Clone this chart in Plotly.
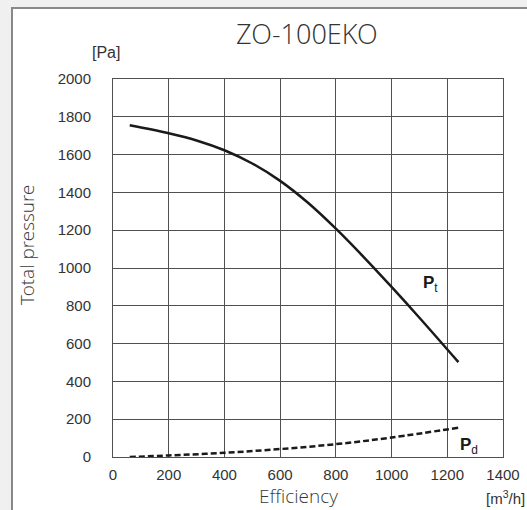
import plotly.graph_objects as go

# Data
pt_x = [60, 200, 300, 400, 500, 600, 700, 800, 900, 1000, 1100, 1240]
pt_y = [1755, 1713, 1675, 1623, 1553, 1461, 1345, 1208, 1058, 900, 737, 502]
pd_x = [60, 200, 400, 600, 800, 1000, 1240]
pd_y = [0, 8, 22, 42, 68, 103, 155]
x_ticks = [0, 200, 400, 600, 800, 1000, 1200, 1400]
y_ticks = [0, 200, 400, 600, 800, 1000, 1200, 1400, 1600, 1800, 2000]

W, H = 527, 510
L, R, T, B = 113, 24, 79, 53
pw, ph = W - L - R, H - T - B

def px(xp):
    return (xp - L) / pw

def py(yp):
    return (H - B - yp) / ph

fig = go.Figure()
fig.add_trace(go.Scatter(x=pt_x, y=pt_y, mode="lines", line=dict(color="#1a1a1a", width=2.5, shape="spline"),
                         hoverinfo="skip", showlegend=False))
fig.add_trace(go.Scatter(x=pd_x, y=pd_y, mode="lines", line=dict(color="#1a1a1a", width=2.5, dash="6px,3px", shape="spline"),
                         hoverinfo="skip", showlegend=False))

gridc = "#505050"
tickfont = dict(family="Liberation Sans, Arial", size=15, color="#333")
fig.update_xaxes(range=[0, 1400], tickvals=x_ticks, showgrid=True, gridcolor=gridc, gridwidth=1,
                 showline=True, linecolor=gridc, linewidth=1, mirror=True, zeroline=False,
                 tickfont=tickfont, ticks="outside", ticklen=4, tickcolor="rgba(0,0,0,0)", fixedrange=True)
fig.update_yaxes(range=[0, 2000], tickvals=y_ticks, showgrid=True, gridcolor=gridc, gridwidth=1,
                 showline=True, linecolor=gridc, linewidth=1, mirror=True, zeroline=False,
                 tickfont=tickfont, ticks="outside", ticklen=18, tickcolor="rgba(0,0,0,0)", fixedrange=True)

shapes = [
    dict(type="rect", xref="paper", yref="paper", x0=px(12), y0=py(H + 20), x1=px(W + 20), y1=py(8),
         line=dict(color="#888888", width=2), fillcolor="white", layer="below"),
]

light = "Open Sans Light, Open Sans"
anns = [
    dict(text="ZO-100EKO", x=px(307), y=py(33), xref="paper", yref="paper", showarrow=False,
         font=dict(family=light, size=27, color="#333", weight=300), xanchor="center", yanchor="middle"),
    dict(text="[Pa]", x=px(106), y=py(53), xref="paper", yref="paper", showarrow=False,
         font=dict(family="Liberation Sans, Arial", size=16, color="#333"), xanchor="center", yanchor="middle"),
    dict(text="Total pressure", x=px(27), y=py(245), xref="paper", yref="paper", showarrow=False, textangle=-90,
         font=dict(family=light, size=19, color="#3a3a3a", weight=300), xanchor="center", yanchor="middle"),
    dict(text="Efficiency", x=px(298), y=py(496), xref="paper", yref="paper", showarrow=False,
         font=dict(family=light, size=19, color="#3a3a3a", weight=300), xanchor="center", yanchor="middle"),
    dict(text="[m<sup>3</sup>/h]", x=px(505), y=py(497), xref="paper", yref="paper", showarrow=False,
         font=dict(family="Liberation Sans, Arial", size=15, color="#333"), xanchor="center", yanchor="middle"),
    dict(text="<b>P</b><sub>t</sub>", x=px(421), y=py(284), xref="paper", yref="paper", showarrow=False,
         font=dict(family="Liberation Sans, Arial", size=17, color="#1a1a1a"), xanchor="left", yanchor="middle"),
    dict(text="<b>P</b><sub>d</sub>", x=px(458), y=py(446), xref="paper", yref="paper", showarrow=False,
         font=dict(family="Liberation Sans, Arial", size=17, color="#1a1a1a"), xanchor="left", yanchor="middle"),
]

fig.update_layout(width=W, height=H, margin=dict(l=L, r=R, t=T, b=B, autoexpand=False),
                  paper_bgcolor="#f0f0f0", plot_bgcolor="white", shapes=shapes, annotations=anns,
                  showlegend=False)
fig.write_html("out.html", config={"displayModeBar": False},
               post_script="document.body.style.margin='0';document.body.style.overflow='hidden';"
                           "document.body.style.background='#f0f0f0';")
